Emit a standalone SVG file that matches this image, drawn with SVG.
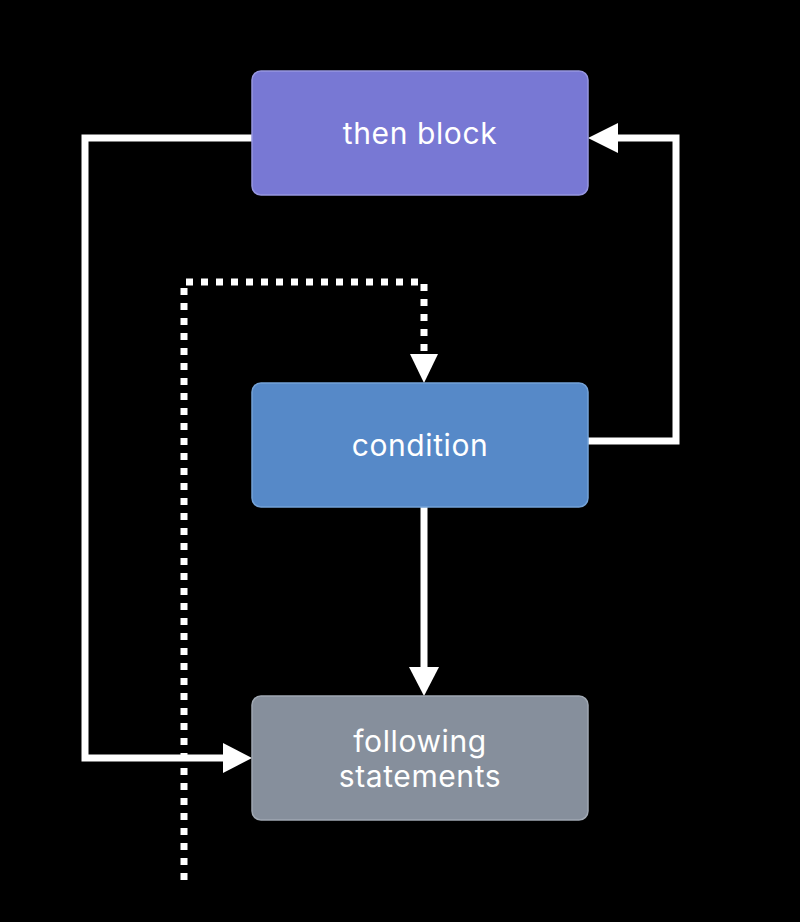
<svg xmlns="http://www.w3.org/2000/svg" width="800" height="922" viewBox="0 0 800 922">
<style>
.box{stroke-width:1.5}
.lbl{font-family:Inter,"Liberation Sans",sans-serif;font-size:30px;letter-spacing:0.6px;fill:#ffffff;text-anchor:middle}
.line{fill:none;stroke:#ffffff;stroke-width:7}
.dot{fill:none;stroke:#ffffff;stroke-width:7;stroke-dasharray:7 8}
.head{fill:#ffffff}
</style>
<rect width="800" height="922" fill="#000000"/>
<g id="connectors">
<polyline class="line" points="252,138 85,138 85,758 224,758"/>
<polygon class="head" points="252,758 223,743 223,773"/>
<polyline class="line" points="588,441 676,441 676,138 617,138"/>
<polygon class="head" points="588,138 618,123 618,153"/>
<line class="line" x1="424" y1="507" x2="424" y2="668"/>
<polygon class="head" points="424,696 409,667 439,667"/>
<polyline class="dot" points="184,880 184,282 424,282 424,354"/>
<polygon class="head" points="424,383 410,354 438,354"/>
</g>
<g id="then-block">
<rect class="box" x="252" y="71" width="336" height="124" rx="9" fill="#7878D4" stroke="#9696E0"/>
<text class="lbl" x="420" y="144">then block</text>
</g>
<g id="condition">
<rect class="box" x="252" y="383" width="336" height="124" rx="9" fill="#5689C8" stroke="#74A2D8"/>
<text class="lbl" x="420" y="456">condition</text>
</g>
<g id="following-statements">
<rect class="box" x="252" y="696" width="336" height="124" rx="9" fill="#868F9C" stroke="#A0A8B3"/>
<text class="lbl" x="420" y="752">following</text>
<text class="lbl" x="420" y="787">statements</text>
</g>
</svg>
